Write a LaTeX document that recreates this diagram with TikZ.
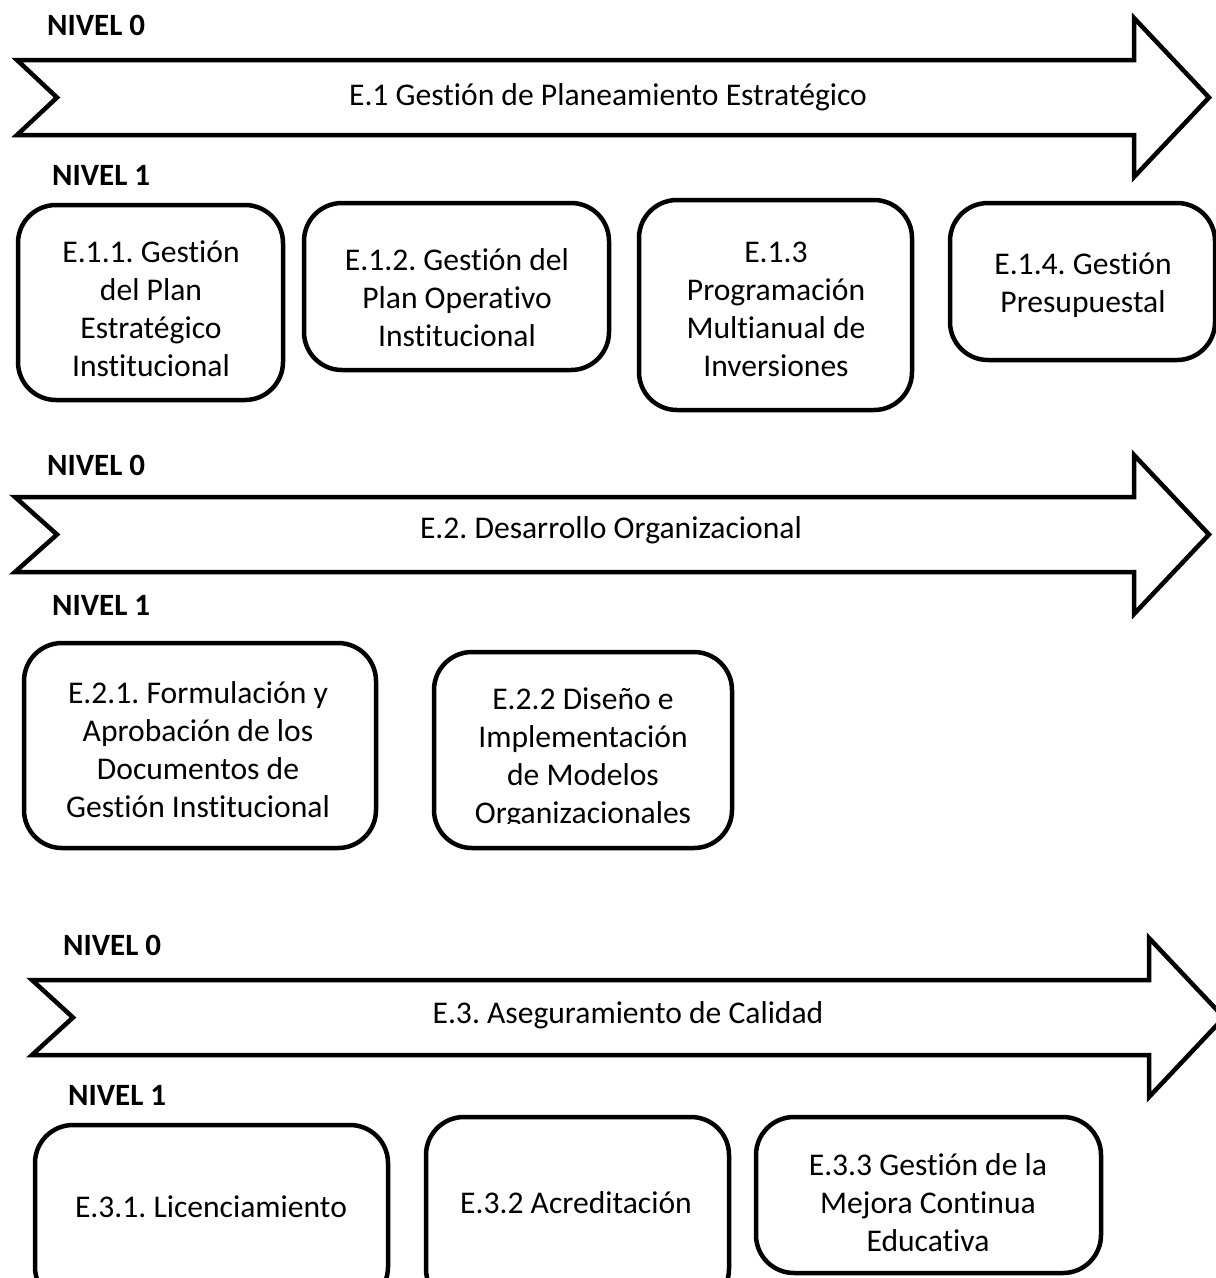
\documentclass[tikz,border=0pt]{standalone}
\usepackage{fontspec}
\setmainfont[Ligatures=NoCommon]{Carlito}
\begin{document}
\frenchspacing
\begin{tikzpicture}[x=1pt,y=-1pt,
  txt/.style={font=\fontsize{31.6}{38}\selectfont, align=center, inner sep=0pt},
  lvl/.style={font=\fontsize{31}{38}\selectfont\bfseries, anchor=west, inner sep=0pt},
  procbox/.style={draw, rounded corners=38pt, inner sep=0pt, outer sep=0pt, line width=4.5pt},
  bigarrow/.style={draw, line width=4.5pt, line join=miter}]
\clip (0,0) rectangle (1216,1278);
\fill[white] (0,0) rectangle (1216,1278);

% ---------- Block E.1 ----------
\node[lvl] (n0a) at (47,25) {NIVEL 0};
\draw[bigarrow] (17,60) -- (1134,60) -- (1134,18) -- (1209,97.5) -- (1134,177)
  -- (1134,135) -- (17,135) -- (57,97.5) -- cycle;
\node[txt] (a1) at (608,97) {E.1 Gestión de Planeamiento Estratégico};
\node[lvl] (n1a) at (52,175) {NIVEL 1};

\node[procbox, minimum width=265pt, minimum height=195pt] (b11) at (150.5,302.5) {};
\node[txt] (t11) at (151,308.5) {E.1.1. Gestión\\del Plan\\Estratégico\\Institucional};
\node[procbox, minimum width=305pt, minimum height=167pt] (b12) at (456.5,286.5) {};
\node[txt] (t12) at (457,298) {E.1.2. Gestión del\\Plan Operativo\\Institucional};
\node[procbox, minimum width=273pt, minimum height=210pt] (b13) at (775.5,305) {};
\node[txt] (t13) at (776,309.5) {E.1.3\\Programación\\Multianual de\\Inversiones};
\node[procbox, minimum width=265pt, minimum height=157pt] (b14) at (1082.5,281.5) {};
\node[txt] (t14) at (1083,285) {E.1.4. Gestión\\Presupuestal};

% ---------- Block E.2 ----------
\node[lvl] (n0b) at (47,465) {NIVEL 0};
\draw[bigarrow] (15,497) -- (1134,497) -- (1134,455) -- (1209,534.5) -- (1134,614)
  -- (1134,572) -- (15,572) -- (57,534.5) -- cycle;
\node[txt] (a2) at (611,530) {E.2. Desarrollo Organizacional};
\node[lvl] (n1b) at (52,605) {NIVEL 1};

\node[procbox, minimum width=352pt, minimum height=205pt] (b21) at (200,745.5) {};
\node[txt] (t21) at (198,750) {E.2.1. Formulación y\\Aprobación de los\\Documentos de\\Gestión Institucional};
\node[procbox, minimum width=298pt, minimum height=196pt] (b22) at (583,750) {};
\begin{scope}
  \clip (440,655) rectangle (728,823);
  \node[txt] (t22) at (583,758.5) {E.2.2 Diseño e\\Implementación\\de Modelos\\Organizacionales};
\end{scope}

% ---------- Block E.3 ----------
\node[lvl] (n0c) at (63,945) {NIVEL 0};
\draw[bigarrow] (32,980) -- (1149,980) -- (1149,938) -- (1224,1017.5) -- (1149,1097)
  -- (1149,1055) -- (32,1055) -- (73,1017.5) -- cycle;
\node[txt] (a3) at (628,1015) {E.3. Aseguramiento de Calidad};
\node[lvl] (n1c) at (68,1095) {NIVEL 1};

\node[procbox, minimum width=353pt, minimum height=180pt] (b31) at (211.5,1215) {};
\node[txt] (t31) at (211,1207) {E.3.1. Licenciamiento};
\node[procbox, minimum width=303pt, minimum height=190pt] (b32) at (577.5,1212) {};
\node[txt] (t32) at (576,1203) {E.3.2 Acreditación};
\node[procbox, minimum width=345pt, minimum height=156pt] (b33) at (928.5,1195) {};
\node[txt] (t33) at (928,1203) {E.3.3 Gestión de la\\Mejora Continua\\Educativa};
\end{tikzpicture}
\end{document}
